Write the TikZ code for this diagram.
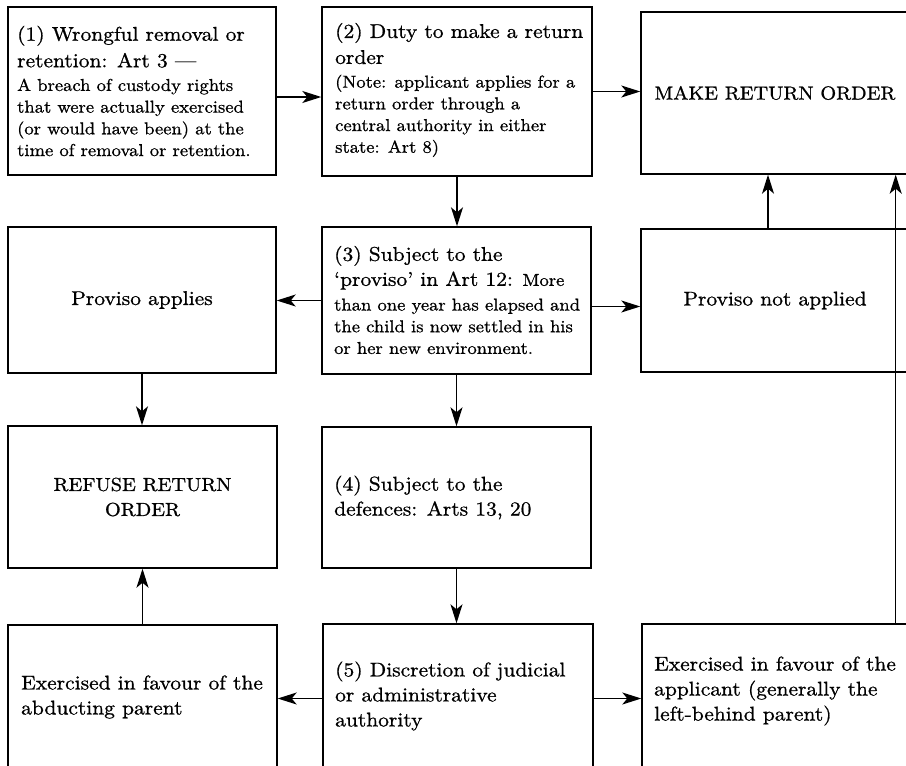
\documentclass[tikz,border=0pt]{standalone}
\usepackage{fontspec}
\setmainfont{lmroman10-regular.otf}[FakeStretch=1.08, FakeBold=0.9]
\usetikzlibrary{arrows.meta}
\newcommand\fbig{\fontsize{19.9}{25}\selectfont}
\newcommand\fsml{\fontsize{17.2}{21.7}\selectfont}
\newcommand\fcap{\fontsize{18.8}{25}\selectfont}
\begin{document}
\begin{tikzpicture}[x=1pt,y=-1pt,
  box/.style={draw, line width=1.4pt, inner sep=0pt},
  txt/.style={anchor=west, align=flush left, text width=265pt, inner sep=0pt, font=\fbig},
  arr/.style={line width=1.3pt, -{Stealth[length=19pt,width=12pt,inset=5pt]}}]
\useasboundingbox (0,0) rectangle (906,766);
\clip (0,0) rectangle (906,766);

% boxes
\node[box, minimum width=268pt, minimum height=168pt] (b1) at (142,91) {};
\node[box, minimum width=270pt, minimum height=169pt] (b2) at (457,91.5) {};
\node[box, minimum width=268pt, minimum height=162pt, font=\fcap] (make) at (775,93) {MAKE RETURN ORDER};
\node[box, minimum width=268pt, minimum height=146pt, font=\fbig] (papp) at (142,300) {Proviso applies};
\node[box, minimum width=269pt, minimum height=147pt] (b3) at (456.5,300.5) {};
\node[box, minimum width=268pt, minimum height=143pt, font=\fbig] (pnot) at (775,300.5) {Proviso not applied};
\node[box, minimum width=269pt, minimum height=142pt, font=\fcap, align=center] (refuse) at (142.5,497) {REFUSE RETURN\\ORDER};
\node[box, minimum width=269pt, minimum height=141pt] (b4) at (456.5,497.5) {};
\node[box, minimum width=269pt, minimum height=144pt] (abd) at (142.5,697) {};
\node[box, minimum width=270pt, minimum height=145pt] (b5) at (458,696.5) {};
\node[box, minimum width=268pt, minimum height=145pt] (appl) at (776,696.5) {};

% texts
\node[txt] (t1) at (17,91) {{\fbig (1) Wrongful removal or\\[1.5pt] retention: Art 3 —\par}
  \vspace{2pt}{\fsml A breach of custody rights\\ that were actually exercised\\ (or would have been) at the\\ time of removal or retention.\par}};
\node[txt] (t2) at (335,90) {{\fbig (2) Duty to make a return\\[1pt] order\par}
  \vspace{2pt}{\fsml (Note: applicant applies for a\\ return order through a\\ central authority in either\\ state: Art 8)\par}};
\node[txt] (t3) at (334,300) {{\fbig (3) Subject to the\\ ‘proviso’ in Art 12: {\fsml More}\par}
  \vspace{3pt}{\fsml than one year has elapsed and\\ the child is now settled in his\\ or her new environment.\par}};
\node[txt] (t4) at (334,497.5) {(4) Subject to the\\ defences: Arts 13, 20};
\node[txt] (t5) at (335,696) {(5) Discretion of judicial\\ or administrative\\ authority};
\node[txt] (tabd) at (21,697) {Exercised in favour of the\\ abducting parent};
\node[txt] (tappl) at (654,691) {Exercised in favour of the\\ applicant (generally the\\ left-behind parent)};

% connectors
\coordinate (a1) at ([yshift=-6pt]b1.east);
\draw[arr] (a1) -- (a1 -| b2.west);
\draw[arr] (b2.east) -- (b2.east -| make.west);
\draw[arr] (b2.south) -- (b2.south |- b3.north);
\draw[arr] (b3.west) -- (b3.west -| papp.east);
\coordinate (a3) at ([yshift=-6pt]b3.east);
\draw[arr] (a3) -- (a3 -| pnot.west);
\coordinate (a4) at ([xshift=-7pt]pnot.north);
\draw[arr] (a4) -- (a4 |- make.south);
\draw[arr] (papp.south) -- (papp.south |- refuse.north);
\draw[arr] (b3.south) -- (b3.south |- b4.north);
\draw[arr] (b4.south) -- (b4.south |- b5.north);
\coordinate (a5) at ([yshift=-2pt]b5.west);
\draw[arr] (a5) -- (a5 -| abd.east);
\coordinate (a6) at ([yshift=-2pt]b5.east);
\draw[arr] (a6) -- (a6 -| appl.west);
\draw[arr] (abd.north) -- (abd.north |- refuse.south);
\coordinate (a7) at ([xshift=-15pt]appl.north east);
\draw[arr] (a7) -- (a7 |- make.south);
\end{tikzpicture}
\end{document}
